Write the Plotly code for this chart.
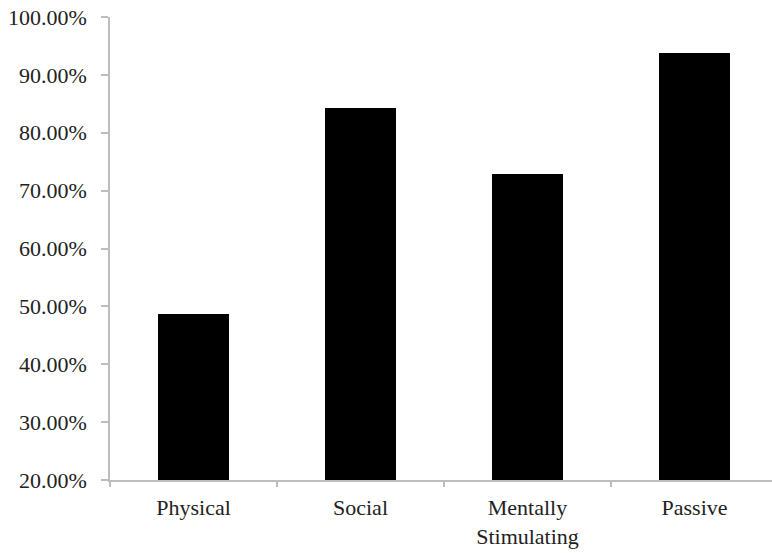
import plotly.graph_objects as go

categories = ["Physical", "Social", "Mentally<br>Stimulating", "Passive"]
values = [48.6, 84.2, 72.8, 93.7]
y_ticks = [20, 30, 40, 50, 60, 70, 80, 90, 100]
y_tick_labels = ["20.00%", "30.00%", "40.00%", "50.00%", "60.00%",
                 "70.00%", "80.00%", "90.00%", "100.00%"]

fig = go.Figure(go.Bar(
    x=categories,
    y=values,
    base=0,
    width=0.42,
    marker=dict(color="black", line=dict(color="black", width=0)),
))

serif = "Liberation Serif, Times New Roman, serif"

fig.update_layout(
    width=772, height=553,
    margin=dict(l=110, r=0, t=17, b=73, autoexpand=False),
    paper_bgcolor="white", plot_bgcolor="white",
    showlegend=False,
    font=dict(family=serif, size=22, color="#222"),
    bargap=0,
)
fig.update_xaxes(
    type="category",
    range=[-0.5, 3.464],
    showline=True, linecolor="#bdbdbd", linewidth=1.5,
    ticks="outside", tickson="boundaries", ticklen=5,
    tickcolor="#bdbdbd", tickwidth=1.5,
    ticklabelstandoff=7,
    showgrid=False, zeroline=False,
    tickfont=dict(family=serif, size=22, color="#222"),
    automargin=False,
)
fig.update_yaxes(
    range=[20, 100],
    tickmode="array",
    tickvals=y_ticks,
    ticktext=y_tick_labels,
    showline=True, linecolor="#bdbdbd", linewidth=1.5,
    ticks="outside", ticklen=7, tickcolor="#bdbdbd", tickwidth=1.5,
    ticklabelstandoff=10,
    ticklabeloverflow="allow",
    showgrid=False, zeroline=False,
    tickfont=dict(family=serif, size=22, color="#222"),
    automargin=False,
)

fig.write_html("out.html", config={"displayModeBar": False},
               post_script="document.body.style.margin='0';")
